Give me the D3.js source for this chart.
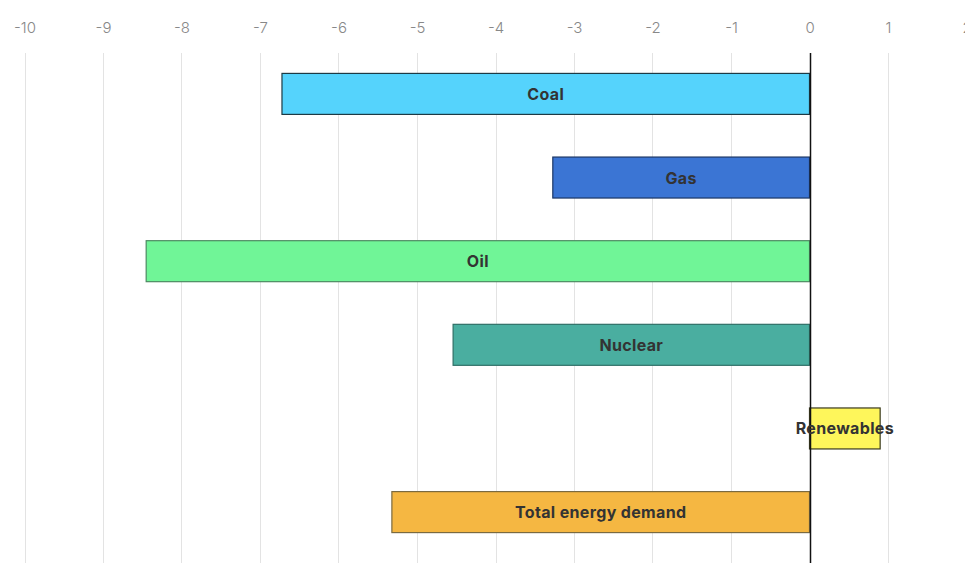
<!DOCTYPE html>
<html>
<head>
<meta charset="utf-8">
<script src="https://cdn.jsdelivr.net/npm/d3@7"></script>
<style>
  html, body { margin: 0; padding: 0; background: #fff; }
  svg { display: block; }
</style>
</head>
<body>
<svg id="chart" width="965" height="563"></svg>
<script>
const categories = ["Coal", "Gas", "Oil", "Nuclear", "Renewables", "Total energy demand"];
const values = [-6.72, -3.27, -8.45, -4.54, 0.90, -5.32];
const colors = ["#55d3fc", "#3b75d4", "#70f597", "#4aaea0", "#fef65b", "#f5b742"];
const strokes = ["#1d3a44", "#1c3766", "#4d8a62", "#2f6f66", "#3a3a1e", "#7a6a40"];
const tickValues = [-10, -9, -8, -7, -6, -5, -4, -3, -2, -1, 0, 1, 2];

const svg = d3.select("#chart");
const x = d3.scaleLinear().domain([-10, 2]).range([24.5, 966.5]);
const y = d3.scaleBand().domain(categories).range([52, 553]).paddingInner(0.51).paddingOuter(0.25);

// grid
const gridTop = 53, gridBottom = 563;
svg.append("g").selectAll("line").data(tickValues.filter(d => d !== 0)).join("line")
  .attr("x1", d => Math.round(x(d)) + 0.5).attr("x2", d => Math.round(x(d)) + 0.5)
  .attr("y1", gridTop).attr("y2", gridBottom)
  .attr("stroke", "#e3e3e3").attr("stroke-width", 1);

// axis labels
const axis = d3.axisTop(x).tickValues(tickValues).tickSize(0).tickPadding(0).tickFormat(d => String(d));
const gAxis = svg.append("g").attr("transform", "translate(0,33)").call(axis);
gAxis.select(".domain").remove();
gAxis.selectAll("text")
  .attr("font-family", "Inter, 'Noto Sans', sans-serif")
  .attr("font-size", 15).attr("font-weight", 300)
  .attr("fill", "#888888");

// bars
svg.append("g").selectAll("rect").data(categories).join("rect")
  .attr("x", (d, i) => Math.min(x(0), x(values[i])))
  .attr("y", d => y(d) + 0.5)
  .attr("width", (d, i) => Math.abs(x(values[i]) - x(0)))
  .attr("height", y.bandwidth())
  .attr("fill", (d, i) => colors[i])
  .attr("stroke", (d, i) => strokes[i])
  .attr("stroke-width", 1.2);

// zero line
svg.append("line")
  .attr("x1", Math.round(x(0)) + 0.5).attr("x2", Math.round(x(0)) + 0.5)
  .attr("y1", gridTop).attr("y2", gridBottom)
  .attr("stroke", "#111").attr("stroke-width", 1.5);

// labels
svg.append("g").selectAll("text").data(categories).join("text")
  .attr("x", (d, i) => (x(0) + x(values[i])) / 2)
  .attr("y", d => y(d) + y.bandwidth() / 2 + 0.5)
  .attr("text-anchor", "middle").attr("dominant-baseline", "central")
  .attr("font-family", "Inter, 'Noto Sans', sans-serif")
  .attr("font-size", 16).attr("font-weight", 700)
  .attr("letter-spacing", 0.35)
  .attr("fill", "#333")
  .text(d => d);
</script>
</body>
</html>
